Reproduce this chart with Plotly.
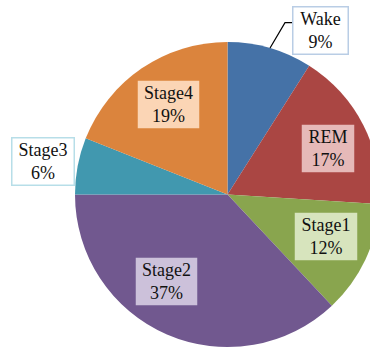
import math
import plotly.graph_objects as go

# Sleep stage composition (percent of total sleep time)
stages = ["Wake", "REM", "Stage1", "Stage2", "Stage3", "Stage4"]
percent = [9, 17, 12, 37, 6, 19]

slice_colors = ["#4572A7", "#AA4643", "#89A54E", "#71588F", "#4198AF", "#DB843D"]
box_fill = ["#FFFFFF", "#E6B9B8", "#D7E4BD", "#CCC1DA", "#FFFFFF", "#FBD5B5"]
box_line = ["#B9CDE5", "rgba(0,0,0,0)", "rgba(0,0,0,0)", "rgba(0,0,0,0)", "#B7DEE8", "rgba(0,0,0,0)"]
box_width = [54, 51, 61, 60, 61, 60]

# Label box centres in pixels (figure coordinates, origin top-left)
label_px = {
    "Wake": (320.3, 30.0),
    "REM": (327.8, 148.0),
    "Stage1": (325.5, 236.0),
    "Stage2": (166.7, 281.0),
    "Stage3": (43.0, 161.2),
    "Stage4": (168.3, 104.2),
}

W, H = 380, 348
ML, MR, MT, MB = 75, 0, 42, 1
PW, PH = W - ML - MR, H - MT - MB
R = min(PW, PH) / 2
CX, CY = ML + PW / 2, MT + PH / 2


def to_paper(px, py):
    return (px - ML) / PW, 1 - (py - MT) / PH


fig = go.Figure(
    go.Pie(
        labels=stages,
        values=percent,
        sort=False,
        direction="clockwise",
        rotation=0,
        marker=dict(colors=slice_colors, line=dict(width=0)),
        textinfo="none",
        hoverinfo="label+percent",
        showlegend=False,
    )
)

total = sum(percent)
annotations = []
for i, name in enumerate(stages):
    x, y = to_paper(*label_px[name])
    annotations.append(
        dict(
            x=x, y=y, xref="paper", yref="paper",
            text=f"{name}<br>{round(100 * percent[i] / total)}%",
            showarrow=False,
            font=dict(family="Liberation Serif", size=18, color="#111111"),
            bgcolor=box_fill[i],
            bordercolor=box_line[i],
            borderwidth=1.5,
            borderpad=0,
            width=box_width[i],
            height=46,
            align="center",
            valign="middle",
            xanchor="center",
            yanchor="middle",
        )
    )

# Elbow leader line from the Wake slice edge to its label box
cum = 0
mid = (cum + percent[0] / 2) / total * 2 * math.pi
sx, sy = CX + R * math.sin(mid), CY - R * math.cos(mid)
wx, wy = label_px["Wake"]
bx = wx - box_width[0] / 2
ex, ey = bx - 8.3, wy - 7.3
p0, p1, p2 = to_paper(sx, sy), to_paper(ex, ey), to_paper(bx, ey)
fig.add_shape(
    type="path",
    xref="paper", yref="paper",
    path=f"M {p0[0]} {p0[1]} L {p1[0]} {p1[1]} L {p2[0]} {p2[1]}",
    line=dict(color="black", width=1.2),
)

fig.update_layout(
    width=W, height=H,
    margin=dict(l=ML, r=MR, t=MT, b=MB, pad=0),
    paper_bgcolor="white",
    plot_bgcolor="white",
    annotations=annotations,
)

fig.write_html(
    "out.html",
    post_script="document.documentElement.style.overflow='hidden';document.body.style.overflow='hidden';",
)
